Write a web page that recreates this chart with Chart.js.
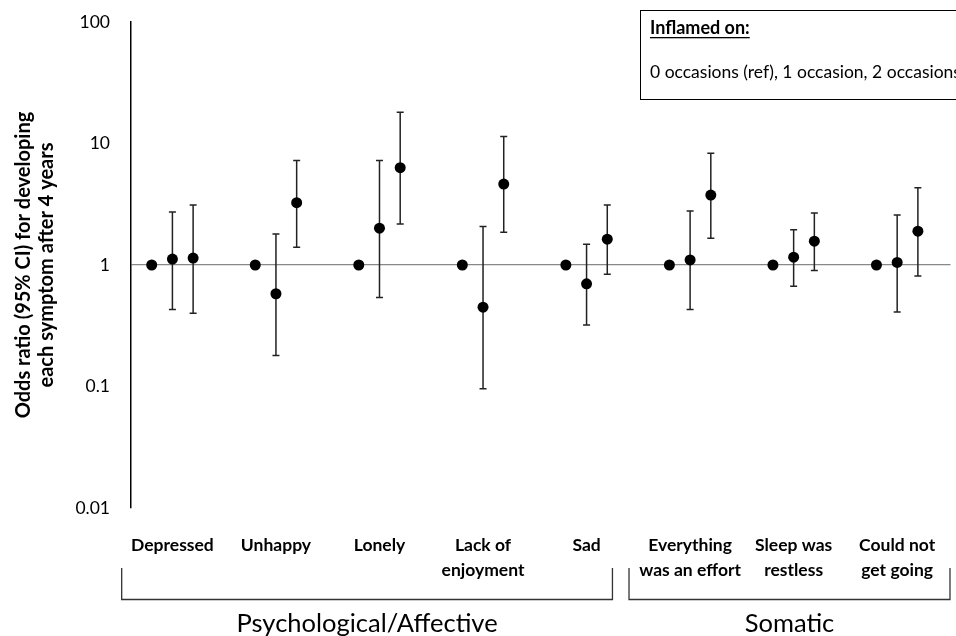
<!DOCTYPE html>
<html>
<head>
<meta charset="utf-8">
<script src="https://cdn.jsdelivr.net/npm/chart.js@4"></script>
<style>
  html, body { margin: 0; padding: 0; background: #fff; }
  #wrap { width: 956px; height: 636px; }
</style>
</head>
<body>
<div id="wrap"><canvas id="grafico" width="956" height="636"></canvas></div>
<script>
// symptoms (x categories)
const sintomas = [["Depressed"], ["Unhappy"], ["Lonely"], ["Lack of", "enjoyment"], ["Sad"],
    ["Everything", "was an effort"], ["Sleep was", "restless"], ["Could not", "get going"]];
const grupos = ["Psychological/Affective", "Somatic"];

// odds ratios: 0 occasions (ref), 1 occasion, 2 occasions
const orRef = [1, 1, 1, 1, 1, 1, 1, 1];
const orUma = [1.12, 0.58, 2.01, 0.45, 0.70, 1.10, 1.16, 1.05];
const icUmaBaixo = [0.43, 0.18, 0.54, 0.096, 0.32, 0.43, 0.67, 0.41];
const icUmaAlto = [2.73, 1.80, 7.25, 2.07, 1.48, 2.78, 1.95, 2.58];
const orDuas = [1.14, 3.26, 6.32, 4.64, 1.63, 3.76, 1.57, 1.90];
const icDuasBaixo = [0.40, 1.40, 2.17, 1.86, 0.84, 1.66, 0.90, 0.81];
const icDuasAlto = [3.12, 7.25, 18.1, 11.4, 3.12, 8.3, 2.68, 4.33];

const yTicks = [0.01, 0.1, 1, 10, 100];
const legendaTitulo = "Inflamed on:";
const legendaTexto = "0 occasions (ref), 1 occasion, 2 occasions";

const desvio = 0.2; // spacing of the 3 points inside a category
const fonte = "Lato, 'Open Sans', sans-serif";

const serie = (vals, off) => vals.map((v, i) => ({ x: i + off, y: v }));

const barrasErro = {
    id: "barrasErro",
    beforeDatasetsDraw(chart) {
        const { ctx, scales: { x, y } } = chart;
        ctx.save();
        ctx.strokeStyle = "#222";
        ctx.lineWidth = 1.5;
        const conjuntos = [[icUmaBaixo, icUmaAlto, 0], [icDuasBaixo, icDuasAlto, desvio]];
        conjuntos.forEach(([baixo, alto, off]) => {
            baixo.forEach((b, i) => {
                const px = x.getPixelForValue(i + off);
                const y1 = y.getPixelForValue(b);
                const y2 = y.getPixelForValue(alto[i]);
                ctx.beginPath();
                ctx.moveTo(px, y1); ctx.lineTo(px, y2);
                ctx.moveTo(px - 3.5, y1); ctx.lineTo(px + 3.5, y1);
                ctx.moveTo(px - 3.5, y2); ctx.lineTo(px + 3.5, y2);
                ctx.stroke();
            });
        });
        ctx.restore();
    },
    afterDraw(chart) {
        const { ctx, scales: { x } } = chart;
        ctx.save();
        ctx.fillStyle = "#000";
        ctx.textAlign = "center";
        ctx.textBaseline = "middle";
        ctx.font = "bold 17.5px " + fonte;
        sintomas.forEach((linhas, i) => {
            const px = x.getPixelForValue(i);
            linhas.forEach((t, k) => ctx.fillText(t, px, 545 + k * 25.5));
        });

        // brackets under the groups
        const limites = [[-0.49, 4.25], [4.41, 7.51]];
        ctx.strokeStyle = "#333";
        ctx.lineWidth = 1.3;
        ctx.font = "25.5px " + fonte;
        grupos.forEach((g, k) => {
            const x1 = x.getPixelForValue(limites[k][0]);
            const x2 = x.getPixelForValue(limites[k][1]);
            ctx.beginPath();
            ctx.moveTo(x1, 568); ctx.lineTo(x1, 599.5); ctx.lineTo(x2, 599.5); ctx.lineTo(x2, 568);
            ctx.stroke();
            ctx.fillText(g, (x1 + x2) / 2, 624);
        });

        // legend box
        ctx.strokeStyle = "#000";
        ctx.lineWidth = 1;
        ctx.strokeRect(640.5, 10.5, 360, 89);
        ctx.textAlign = "left";
        ctx.textBaseline = "alphabetic";
        ctx.font = "bold 18px " + fonte;
        ctx.fillText(legendaTitulo, 650, 34);
        const w = ctx.measureText(legendaTitulo).width;
        ctx.fillRect(650, 37, w, 1.3);
        ctx.font = "17.5px " + fonte;
        ctx.fillText(legendaTexto, 650, 78);
        ctx.restore();
    }
};

const ponto = { pointRadius: 5.5, pointHoverRadius: 5.5, backgroundColor: "#000", borderWidth: 0, showLine: false };

new Chart(document.getElementById("grafico").getContext("2d"), {
    type: "scatter",
    data: {
        datasets: [
            { label: "0 occasions (ref)", data: serie(orRef, -desvio), ...ponto },
            { label: "1 occasion", data: serie(orUma, 0), ...ponto },
            { label: "2 occasions", data: serie(orDuas, desvio), ...ponto }
        ]
    },
    options: {
        responsive: false,
        animation: false,
        layout: { padding: { top: 22, right: 0, bottom: 128, left: 0 } },
        plugins: { legend: { display: false }, tooltip: { enabled: false } },
        scales: {
            x: {
                type: "linear",
                min: -0.4,
                max: 7.515,
                display: false
            },
            y: {
                type: "logarithmic",
                min: 0.01,
                max: 100,
                afterBuildTicks: s => { s.ticks = yTicks.map(v => ({ value: v })); },
                afterFit: s => { s.width = 131; },
                ticks: {
                    color: "#000",
                    padding: 3,
                    font: { family: fonte, size: 17.5 },
                    callback: v => String(v)
                },
                grid: {
                    drawTicks: true,
                    tickLength: 18,
                    tickColor: "rgba(0,0,0,0)",
                    color: c => (c.tick && c.tick.value === 1 ? "#888" : "rgba(0,0,0,0)"),
                    lineWidth: 1.2
                },
                border: { display: true, color: "#000", width: 1.5 },
                title: {
                    display: true,
                    text: ["Odds ratio (95% CI) for developing", "each symptom after 4 years"],
                    color: "#000",
                    font: { family: fonte, size: 20, weight: "bold", lineHeight: 1.15 },
                    padding: { top: 12, bottom: 0 }
                }
            }
        }
    },
    plugins: [barrasErro]
});
</script>
</body>
</html>
